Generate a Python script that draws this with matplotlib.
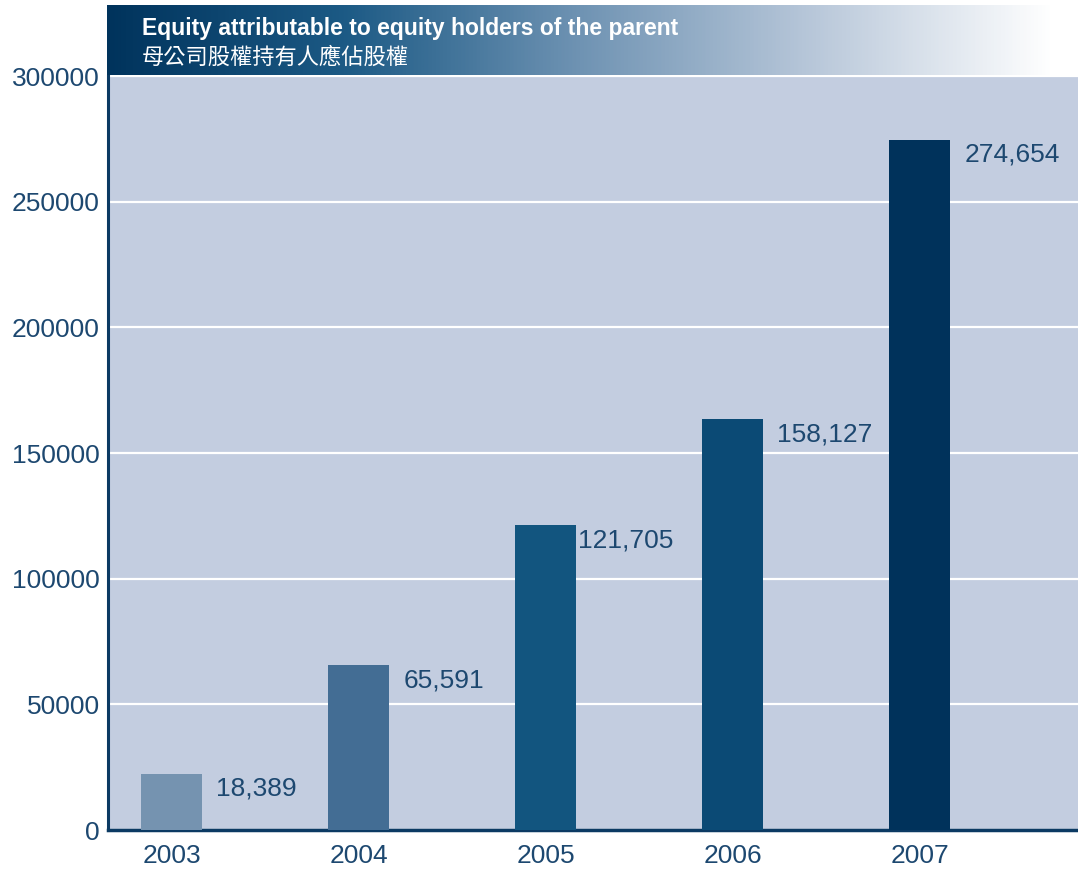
import numpy as np
import matplotlib.pyplot as plt
from matplotlib.colors import LinearSegmentedColormap

# data
years = ['2003', '2004', '2005', '2006', '2007']
bar_heights = [22400, 65591, 121300, 163500, 274654]   # drawn heights
value_labels = ['18,389', '65,591', '121,705', '158,127', '274,654']
bar_colors = ['#7593b0', '#436d94', '#12557f', '#0b4a75', '#00325b']
yticks = [0, 50000, 100000, 150000, 200000, 250000, 300000]

title_en = 'Equity attributable to equity holders of the parent'
title_zh = '母公司股權持有人應佔股權'

text_col = '#1d4870'
bg_col = '#c3cde0'
navy = '#0b3a63'

plt.rcParams['font.family'] = ['Liberation Sans', 'Noto Sans CJK TC', 'DejaVu Sans']

W, H = 1078, 869
fig = plt.figure(figsize=(W/100, H/100), dpi=100)

# main axes (pixel layout)
ax = fig.add_axes([108/W, (H-830)/H, (W-108)/W, (830-76)/H])
ax.set_facecolor(bg_col)

x = np.arange(len(years))
ax.bar(x, bar_heights, width=0.326, color=bar_colors, zorder=3)

for i in range(len(years)):
	dx = 1 if i == 2 else 10   # 2005 label sits against its bar
	ax.annotate(value_labels[i], (x[i]+0.163, bar_heights[i]), xytext=(dx, -11),
		textcoords='offset points', ha='left', va='center', fontsize=19, color=text_col, zorder=4)

ax.set_xlim(-0.342, 4.845)
ax.set_ylim(0, 300000)
ax.set_yticks(yticks)
ax.set_yticklabels([str(v) for v in yticks])
ax.set_xticks(x)
ax.set_xticklabels(years)
ax.tick_params(axis='both', length=0, labelsize=19, labelcolor=text_col)
ax.tick_params(axis='y', pad=6)
ax.tick_params(axis='x', pad=10)
ax.grid(axis='y', color='white', linewidth=1.6, zorder=1)
ax.set_axisbelow(True)

for s in ['top', 'right']:
	ax.spines[s].set_visible(False)
ax.spines['left'].set_color(navy)
ax.spines['left'].set_linewidth(2.2)
ax.spines['bottom'].set_color(navy)
ax.spines['bottom'].set_linewidth(2.5)

# header band with gradient
hax = fig.add_axes([107/W, (H-75)/H, (1053-107)/W, 70/H])
cmap = LinearSegmentedColormap.from_list('hdr', ['#00335c', '#1c5a85', '#6f93b3', '#b9c8da', '#ffffff'])
grad = np.linspace(0, 1, 512).reshape(1, -1)
hax.imshow(grad, aspect='auto', cmap=cmap, extent=[0, 1, 0, 1])
hax.set_xlim(0, 1)
hax.set_ylim(0, 1)
hax.axis('off')
hax.text(35/946, 0.66, title_en, color='white', fontsize=16.5, fontweight='bold', va='center', ha='left')
hax.text(35/946, 0.25, title_zh, color='white', fontsize=16, va='center', ha='left',
	family=['Noto Sans CJK TC', 'DejaVu Sans'])

fig.savefig('out.png', dpi=100)
